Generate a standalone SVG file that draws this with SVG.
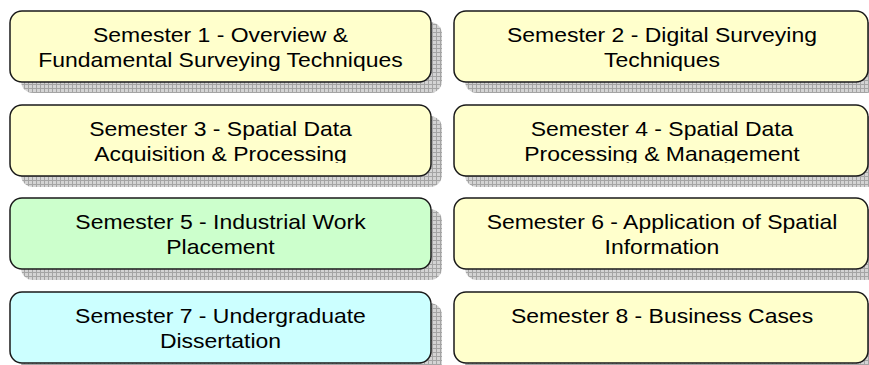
<svg xmlns="http://www.w3.org/2000/svg" width="869" height="365" viewBox="0 0 869 365">
  <defs>
    <pattern id="grid" x="0" y="0" width="4" height="4" patternUnits="userSpaceOnUse">
      <rect width="4" height="4" fill="#d4d4d4"/>
      <path d="M0 0.5H4M0.5 0V4" stroke="#a4a4a4" stroke-width="1" fill="none"/>
    </pattern>
    <clipPath id="clipRow2">
      <rect x="0" y="100" width="869" height="63"/>
    </clipPath>
  </defs>
  <style>
    .shadow { fill: url(#grid); }
    .box { stroke: #1a1a1a; stroke-width: 1.5; }
    .yellow { fill: #ffffcc; }
    .green { fill: #ccffcc; }
    .cyan { fill: #ccffff; }
    .label { font-family: "Liberation Sans", Arial, sans-serif; font-size: 20.5px; fill: #000; text-anchor: middle; }
  </style>
  <rect width="869" height="365" fill="#ffffff"/>
  <g id="connectors"></g>

  <g id="sem1">
    <rect class="shadow" x="21" y="22" width="421" height="71" rx="12"/>
    <rect class="box yellow" x="10" y="11" width="421" height="71" rx="12"/>
    <g transform="translate(220.5,0) scale(1.12,1)">
      <text class="label" x="0" y="42">Semester 1 - Overview &amp;</text>
      <text class="label" x="0" y="67">Fundamental Surveying Techniques</text>
    </g>
  </g>

  <g id="sem2">
    <rect class="shadow" x="465" y="22" width="414" height="71" rx="12"/>
    <rect class="box yellow" x="454" y="11" width="414" height="71" rx="12"/>
    <g transform="translate(662,0) scale(1.12,1)">
      <text class="label" x="0" y="42">Semester 2 - Digital Surveying</text>
      <text class="label" x="0" y="67">Techniques</text>
    </g>
  </g>

  <g id="sem3">
    <rect class="shadow" x="21" y="116" width="421" height="71" rx="12"/>
    <rect class="box yellow" x="10" y="105" width="421" height="71" rx="12"/>
    <g clip-path="url(#clipRow2)">
      <g transform="translate(220.5,0) scale(1.12,1)">
        <text class="label" x="0" y="136">Semester 3 - Spatial Data</text>
        <text class="label" x="0" y="161">Acquisition &amp; Processing</text>
      </g>
    </g>
  </g>

  <g id="sem4">
    <rect class="shadow" x="465" y="116" width="414" height="71" rx="12"/>
    <rect class="box yellow" x="454" y="105" width="414" height="71" rx="12"/>
    <g clip-path="url(#clipRow2)">
      <g transform="translate(662,0) scale(1.12,1)">
        <text class="label" x="0" y="136">Semester 4 - Spatial Data</text>
        <text class="label" x="0" y="161">Processing &amp; Management</text>
      </g>
    </g>
  </g>

  <g id="sem5">
    <rect class="shadow" x="21" y="209" width="421" height="71" rx="12"/>
    <rect class="box green" x="10" y="198" width="421" height="71" rx="12"/>
    <g transform="translate(220.5,0) scale(1.12,1)">
      <text class="label" x="0" y="229">Semester 5 - Industrial Work</text>
      <text class="label" x="0" y="254">Placement</text>
    </g>
  </g>

  <g id="sem6">
    <rect class="shadow" x="465" y="209" width="414" height="71" rx="12"/>
    <rect class="box yellow" x="454" y="198" width="414" height="71" rx="12"/>
    <g transform="translate(662,0) scale(1.12,1)">
      <text class="label" x="0" y="229">Semester 6 - Application of Spatial</text>
      <text class="label" x="0" y="254">Information</text>
    </g>
  </g>

  <g id="sem7">
    <rect class="shadow" x="21" y="303" width="421" height="71" rx="12"/>
    <rect class="box cyan" x="10" y="292" width="421" height="71" rx="12"/>
    <g transform="translate(220.5,0) scale(1.12,1)">
      <text class="label" x="0" y="323">Semester 7 - Undergraduate</text>
      <text class="label" x="0" y="348">Dissertation</text>
    </g>
  </g>

  <g id="sem8">
    <rect class="shadow" x="465" y="303" width="414" height="71" rx="12"/>
    <rect class="box yellow" x="454" y="292" width="414" height="71" rx="12"/>
    <g transform="translate(662,0) scale(1.12,1)">
      <text class="label" x="0" y="323">Semester 8 - Business Cases</text>
    </g>
  </g>
</svg>
